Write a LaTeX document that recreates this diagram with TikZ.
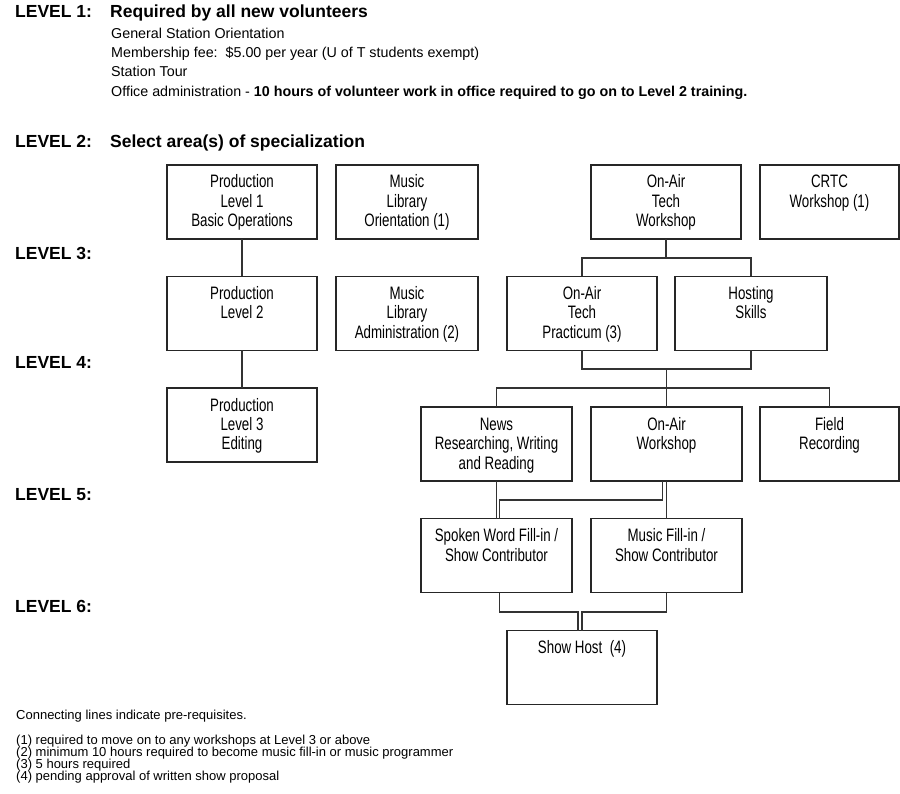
\documentclass[tikz,border=0pt]{standalone}
\usepackage{fontspec}
\setmainfont{Liberation Sans}
\newfontfamily\boxfont{Liberation Sans}[FakeStretch=0.74]
\usetikzlibrary{calc,positioning}

% text of a training box, hung from the top edge
\newcommand{\unittext}[1]{\parbox[c][74pt][t]{132pt}{\centering\boxfont\fontsize{18}{19.5}\selectfont\rule{0pt}{23pt}#1}}

\tikzset{
  unit/.style={draw=black!85, line width=1.1pt, minimum width=150pt, minimum height=74pt, inner sep=0pt, outer sep=0pt},
  link/.style={draw=black!80, line width=1.1pt},
  levelhead/.style={anchor=base west, inner sep=0pt, font=\fontsize{17.5}{20}\selectfont\bfseries},
  bodyline/.style={anchor=base west, inner sep=0pt, font=\fontsize{14.3}{17}\selectfont},
  note/.style={anchor=base west, inner sep=0pt, font=\fontsize{13}{15}\selectfont}
}

\begin{document}
\begin{tikzpicture}[x=1pt,y=-1pt]
    \useasboundingbox (0,0) rectangle (900,794);

    % level 1 text
    \node[levelhead] (lev1) at (15,18) {LEVEL 1:};
    \node[levelhead] (head1) at (110,18) {Required by all new volunteers};
    \node[bodyline] (req1) at (111,39) {General Station Orientation};
    \node[bodyline] (req2) at (111,58) {Membership fee:\ \ \$5.00 per year (U of T students exempt)};
    \node[bodyline] (req3) at (111,77) {Station Tour};
    \node[bodyline] (req4) at (111,97) {Office administration - \textbf{10 hours of volunteer work in office required to go on to Level 2 training.}};

    % level labels down the left side
    \node[levelhead] (lev2) at (15,148) {LEVEL 2:};
    \node[levelhead] (head2) at (110,148) {Select area(s) of specialization};
    \node[levelhead] (lev3) at (15,260) {LEVEL 3:};
    \node[levelhead] (lev4) at (15,369) {LEVEL 4:};
    \node[levelhead] (lev5) at (15,500) {LEVEL 5:};
    \node[levelhead] (lev6) at (15,612) {LEVEL 6:};

    % first row of boxes
    \node[unit] (prod1) at (242,202) {\unittext{Production\\Level 1\\Basic Operations}};
    \node[unit,minimum width=142pt] (mlo) at (407,202) {\unittext{Music\\Library\\Orientation (1)}};
    \node[unit] (otw) at (666,202) {\unittext{On-Air\\Tech\\Workshop}};
    \node[unit,minimum width=139pt] (crtc) at (829.5,202) {\unittext{CRTC\\Workshop (1)}};

    % second row
    \node[unit] (prod2) at (242,313.5) {\unittext{Production\\Level 2}};
    \node[unit,minimum width=142pt] (mla) at (407,313.5) {\unittext{Music\\Library\\Administration (2)}};
    \node[unit] (otp) at (582,313.5) {\unittext{On-Air\\Tech\\Practicum (3)}};
    \node[unit,minimum width=152pt] (host) at (751,313.5) {\unittext{Hosting\\Skills}};

    % third row
    \node[unit] (prod3) at (242,425) {\unittext{Production\\Level 3\\Editing}};
    \node[unit,minimum width=151pt] (news) at (496.5,444) {\unittext{News\\Researching, Writing\\and Reading}};
    \node[unit,minimum width=151pt] (oaw) at (666.5,444) {\unittext{On-Air\\Workshop}};
    \node[unit,minimum width=139pt] (field) at (829.5,444) {\unittext{Field\\Recording}};

    % fourth row and the show host
    \node[unit,minimum width=151pt] (spoken) at (496.5,555.5) {\unittext{Spoken Word Fill-in /\\Show Contributor}};
    \node[unit,minimum width=151pt] (musicfill) at (666.5,555.5) {\unittext{Music Fill-in /\\Show Contributor}};
    \node[unit] (showhost) at (582,667.5) {\unittext{Show Host\ \ (4)}};

    % production track
    \draw[link] (prod1) -- (prod2);
    \draw[link] (prod2) -- (prod3);

    % on-air tech workshop splits in two
    \draw[link] (otw.south) -- ++(0,19) -| (otp.north);
    \draw[link] (otw.south) -- ++(0,19) -| (host.north);

    % both needed before level 4
    \draw[link] (otp.south) -- ++(0,18.5) coordinate (join4) -| (host.south);
    \coordinate (mid4) at ($(join4)!.5!(join4 -| host.south)$);
    \draw[link] (mid4) -- ++(0,19) -| (news.north);
    \draw[link] (mid4) -- (mid4 |- oaw.north);
    \draw[link] (mid4) -- ++(0,19) -| (field.north);

    % level 5
    \draw[link] (news) -- (spoken);
    \draw[link] ([xshift=-4pt]oaw.south) -- ++(0,19) -| ([xshift=3pt]spoken.north);
    \draw[link] (oaw) -- (musicfill);

    % level 6
    \draw[link] ([xshift=3pt]spoken.south) -- ++(0,19.5) -| ([xshift=-4pt]showhost.north);
    \draw[link] (musicfill.south) -- ++(0,19.5) -| (showhost.north);

    % notes at the foot
    \node[note] (legend) at (16,719) {Connecting lines indicate pre-requisites.};
    \foreach \txt [count=\i] in {{(1) required to move on to any workshops at Level 3 or above},
        {(2) minimum 10 hours required to become music fill-in or music programmer},
        {(3) 5 hours required},
        {(4) pending approval of written show proposal}}
        \node[note] (note\i) at (16,732+12*\i) {\txt};
\end{tikzpicture}
\end{document}
